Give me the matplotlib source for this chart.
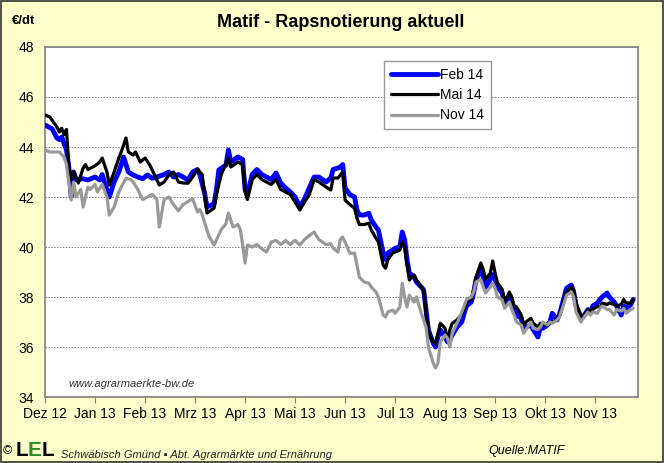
import numpy as np
import matplotlib.pyplot as plt
from matplotlib.patches import Rectangle

plt.rcParams['font.family'] = ['Liberation Sans', 'DejaVu Sans']

# trading-day index (0 = start of Dec 2012)
days_feb_early = [0, 3, 5, 6, 7, 9, 10, 11, 12, 13, 16, 18, 21, 23, 24, 26, 27, 29, 31, 33,
                  35, 37, 39, 41, 43, 45, 47, 50, 52, 54, 56, 58,
                  60, 62, 64, 65, 67, 68, 71, 72, 73, 76, 77, 78, 81, 83, 84, 85, 87, 89,
                  91, 93, 95, 97, 99, 101, 103, 105, 107, 109, 111, 113, 115]
feb_early = [44.88, 44.72, 44.36, 44.3, 44.4, 43.88, 43.2, 42.0, 43.0, 42.7, 42.73, 42.68, 42.8,
             42.68, 42.9, 42.28, 42.0, 42.6, 43.0, 43.6, 43.0, 42.88, 42.8, 42.73, 42.88, 42.75,
             42.8, 42.9, 43.0, 42.8, 42.9, 42.8,
             42.68, 43.0, 43.1, 42.9, 42.16, 41.6, 41.73, 42.3, 43.08, 43.28, 43.88, 43.4, 43.6,
             43.5, 42.3, 42.1, 42.9, 43.1, 42.9, 42.8, 42.7, 42.96, 42.56, 42.36, 42.2, 42.0,
             41.6, 41.93, 42.36, 42.8, 42.8]

days_mai_early = [0, 2, 5, 6, 7, 8, 9, 10, 11, 12, 14, 16, 17, 18, 21, 23, 24, 26, 27, 29,
                  31, 32, 34, 35, 37, 38, 40, 42, 44, 46, 48, 50, 52, 54, 56, 58, 60, 62,
                  64, 66, 67, 68, 71, 72, 74, 77, 78, 81, 83, 84, 85, 87, 89, 91, 93, 95,
                  97, 99, 101, 103, 105, 107, 109, 111, 113, 115]
mai_early = [45.28, 45.2, 44.8, 44.6, 44.75, 44.5, 44.7, 43.2, 42.7, 43.0, 42.56, 43.16, 43.3,
             43.1, 43.25, 43.4, 43.56, 43.0, 42.48, 43.0, 43.56, 43.8, 44.36, 43.8, 43.68, 43.8,
             43.4, 43.56, 43.28, 42.88, 42.48, 42.6, 42.88, 43.0, 42.6, 42.56, 42.55, 42.8,
             43.1, 42.9, 42.1, 41.36, 41.56, 42.1, 42.9, 43.56, 43.2, 43.4, 43.3, 42.2, 41.9,
             42.7, 42.9, 42.7, 42.6, 42.5, 42.7, 42.3, 42.2, 42.1, 41.8, 41.48, 41.8, 42.1,
             42.7, 42.6]

days_nov_early = [0, 2, 4, 6, 8, 9, 11, 12, 13, 15, 16, 18, 19, 21, 22, 24, 26, 27, 29, 31,
                  32, 34, 36, 37, 39, 41, 43, 45, 47, 48, 50, 52, 54, 56, 58, 61, 62, 64,
                  65, 66, 68, 69, 71, 73, 74, 76, 77, 79, 81, 82, 83, 84, 85, 87, 89, 91,
                  93, 95, 97, 99, 101, 103, 105, 107, 109, 111, 113, 115]
nov_early = [43.88, 43.8, 43.8, 43.8, 43.6, 43.3, 41.88, 42.6, 42.0, 42.3, 41.6, 42.4, 42.3,
             42.5, 42.2, 42.5, 42.0, 41.28, 41.6, 42.2, 42.4, 42.75, 42.7, 42.6, 42.3, 41.9,
             42.0, 42.1, 41.9, 40.8, 41.9, 42.0, 41.7, 41.45, 41.7, 41.87, 41.93, 41.4, 41.5,
             41.3, 40.68, 40.4, 40.08, 40.5, 40.7, 40.93, 41.36, 40.8, 40.9, 40.7, 40.1, 39.36,
             40.08, 40.0, 40.1, 39.93, 39.8, 40.2, 40.26, 40.1, 40.26, 40.1, 40.27, 40.08,
             40.3, 40.46, 40.6, 40.3]

# shared sampling for Jun - Dec 2013
days_late = [118, 120, 121, 123, 124, 125, 126, 128, 130, 131, 132, 134, 136, 137, 139, 140,
             142, 143, 144, 146, 147, 149, 150, 151, 152, 153, 155, 156, 158, 159, 160, 161,
             163, 164, 165, 166, 168, 169, 170, 171, 173, 175, 176, 177, 179, 180, 181, 183,
             184, 185, 187, 188, 189, 190, 192, 193, 195, 196, 197, 198, 200, 201, 202, 204,
             205, 207, 208, 209, 211, 212, 213, 215, 216, 218, 219, 221, 222, 223, 225, 226,
             228, 229, 230, 232, 233, 234, 236, 237, 239, 240, 242, 243, 244, 246, 247]
feb_late = [42.6, 42.76, 43.1, 43.16, 43.2, 43.3, 42.36, 42.1, 42.0, 41.48, 41.28, 41.28, 41.35,
            41.08, 40.8, 40.68, 39.76, 39.5, 39.76, 39.88, 39.95, 40.0, 40.6, 40.3, 39.5, 38.96,
            38.8, 38.6, 38.4, 38.28, 37.48, 36.68, 36.16, 36.0, 36.4, 36.68, 36.4, 36.2, 36.28,
            36.48, 36.8, 37.0, 37.35, 37.64, 37.8, 38.16, 38.7, 39.1, 38.8, 38.4, 38.7, 38.9,
            38.7, 38.4, 38.16, 37.7, 38.0, 37.7, 37.5, 37.28, 37.15, 36.7, 36.8, 36.88, 36.7,
            36.4, 36.8, 36.75, 36.88, 37.0, 37.35, 37.08, 37.3, 38.0, 38.35, 38.48, 38.2, 37.64,
            37.15, 37.2, 37.5, 37.35, 37.64, 37.76, 37.9, 38.0, 38.16, 38.0, 37.8, 37.64, 37.28,
            37.64, 37.55, 37.7, 37.9]
mai_late = [42.4, 42.28, 42.76, 42.76, 42.88, 43.0, 41.88, 41.7, 41.55, 41.15, 40.9, 40.9, 40.95,
            40.68, 40.35, 40.2, 39.28, 39.15, 39.5, 39.76, 39.8, 39.88, 40.2, 40.0, 39.28, 38.68,
            38.88, 38.68, 38.4, 38.28, 37.35, 36.6, 36.2, 36.13, 36.55, 36.95, 36.75, 36.28,
            36.68, 36.95, 37.08, 37.32, 37.52, 37.8, 37.92, 38.28, 38.8, 39.36, 39.1, 38.7,
            38.96, 39.44, 38.96, 38.56, 38.3, 37.8, 38.2, 38.0, 37.64, 37.6, 37.28, 36.88, 37.0,
            37.15, 36.95, 36.8, 36.95, 36.88, 36.88, 36.95, 37.0, 37.08, 37.28, 37.9, 38.2,
            38.4, 38.28, 37.76, 37.28, 37.2, 37.5, 37.44, 37.5, 37.64, 37.55, 37.76, 37.7,
            37.76, 37.7, 37.64, 37.7, 37.9, 37.76, 37.76, 37.9]
nov_late = [40.1, 40.13, 39.95, 39.8, 40.3, 40.4, 40.2, 39.75, 39.75, 39.28, 38.8, 38.6, 38.55,
            38.4, 38.2, 38.0, 37.28, 37.2, 37.4, 37.48, 37.35, 37.6, 38.55, 38.0, 37.6, 38.07,
            37.8, 38.0, 37.35, 37.08, 36.8, 36.0, 35.36, 35.16, 35.36, 36.2, 36.48, 36.35, 36.0,
            36.55, 36.95, 37.4, 37.65, 37.9, 38.0, 38.2, 38.6, 38.7, 38.4, 38.16, 38.4, 38.55,
            38.35, 38.0, 37.88, 37.55, 37.8, 37.5, 37.28, 37.0, 36.88, 36.55, 36.7, 37.0, 36.75,
            36.7, 36.8, 37.0, 36.88, 37.0, 36.95, 37.08, 37.2, 37.76, 38.08, 38.2, 38.0, 37.4,
            37.0, 37.15, 37.4, 37.28, 37.4, 37.35, 37.55, 37.64, 37.5, 37.5, 37.28, 37.5, 37.44,
            37.55, 37.35, 37.5, 37.55]

month_labels = ['Dez 12', 'Jan 13', 'Feb 13', 'Mrz 13', 'Apr 13', 'Mai 13',
                'Jun 13', 'Jul 13', 'Aug 13', 'Sep 13', 'Okt 13', 'Nov 13']

bg = '#FFFFCC'
fig = plt.figure(figsize=(6.64, 4.63), dpi=100, facecolor=bg)
ax = fig.add_axes([0.0678, 0.1425, 0.893, 0.756])
ax.set_facecolor('white')

ax.plot(days_feb_early + days_late, feb_early + feb_late, color='#0000FF', lw=3.5,
        label='Feb 14', solid_joinstyle='round', solid_capstyle='round', zorder=3)
ax.plot(days_mai_early + days_late, mai_early + mai_late, color='black', lw=2.3,
        label='Mai 14', solid_joinstyle='round', solid_capstyle='round', zorder=4)
ax.plot(days_nov_early + days_late, nov_early + nov_late, color='#999999', lw=2.3,
        label='Nov 14', solid_joinstyle='round', solid_capstyle='round', zorder=5)

ax.set_xlim(0, 249)
ax.set_ylim(34, 48)
ax.set_yticks(np.arange(34, 49, 2))
ax.set_xticks(np.arange(len(month_labels)) * 21)
ax.set_xticklabels(month_labels)
ax.tick_params(axis='both', labelsize=10, direction='out', length=4, color='#808080')
ax.tick_params(axis='y', length=0, pad=8)
ax.grid(axis='y', color='#808080', ls=(0, (1.5, 1.5)), lw=0.7)
for s in ax.spines.values():
    s.set_color('#808080')
    s.set_linewidth(1.2)

leg = ax.legend(loc='upper left', bbox_to_anchor=(0.572, 0.96), fontsize=10, frameon=True,
                fancybox=False, edgecolor='#808080', handlelength=3.4, handletextpad=0.1,
                borderpad=0.5, labelspacing=0.45, borderaxespad=0)
leg.get_frame().set_linewidth(1.0)

ax.text(0.04, 0.03, 'www.agrarmaerkte-bw.de', transform=ax.transAxes, fontsize=8,
        style='italic', color='#333333')

fig.text(0.513, 0.952, 'Matif - Rapsnotierung aktuell', ha='center', va='center',
         fontsize=13, fontweight='bold')
fig.text(0.018, 0.955, '€/dt', ha='left', va='center', fontsize=9.5, fontweight='bold')

# footer
fig.text(0.004, 0.02, '©', fontsize=9)
fig.text(0.023, 0.015, 'L', fontsize=15, fontweight='bold')
fig.text(0.042, 0.015, 'E', fontsize=15, fontweight='bold', color='#2E8B2E')
fig.text(0.063, 0.015, 'L', fontsize=15, fontweight='bold')
fig.text(0.092, 0.01, 'Schwäbisch Gmünd ▪ Abt. Agrarmärkte und Ernährung', fontsize=8,
         style='italic', color='#222222')
fig.text(0.735, 0.02, 'Quelle:MATIF', fontsize=9, style='italic')

fig.patches.append(Rectangle((0.001, 0.002), 0.997, 0.995, transform=fig.transFigure,
                             fill=False, edgecolor='#333333', lw=1.2))

fig.savefig('out.png', dpi=100, facecolor=bg)
